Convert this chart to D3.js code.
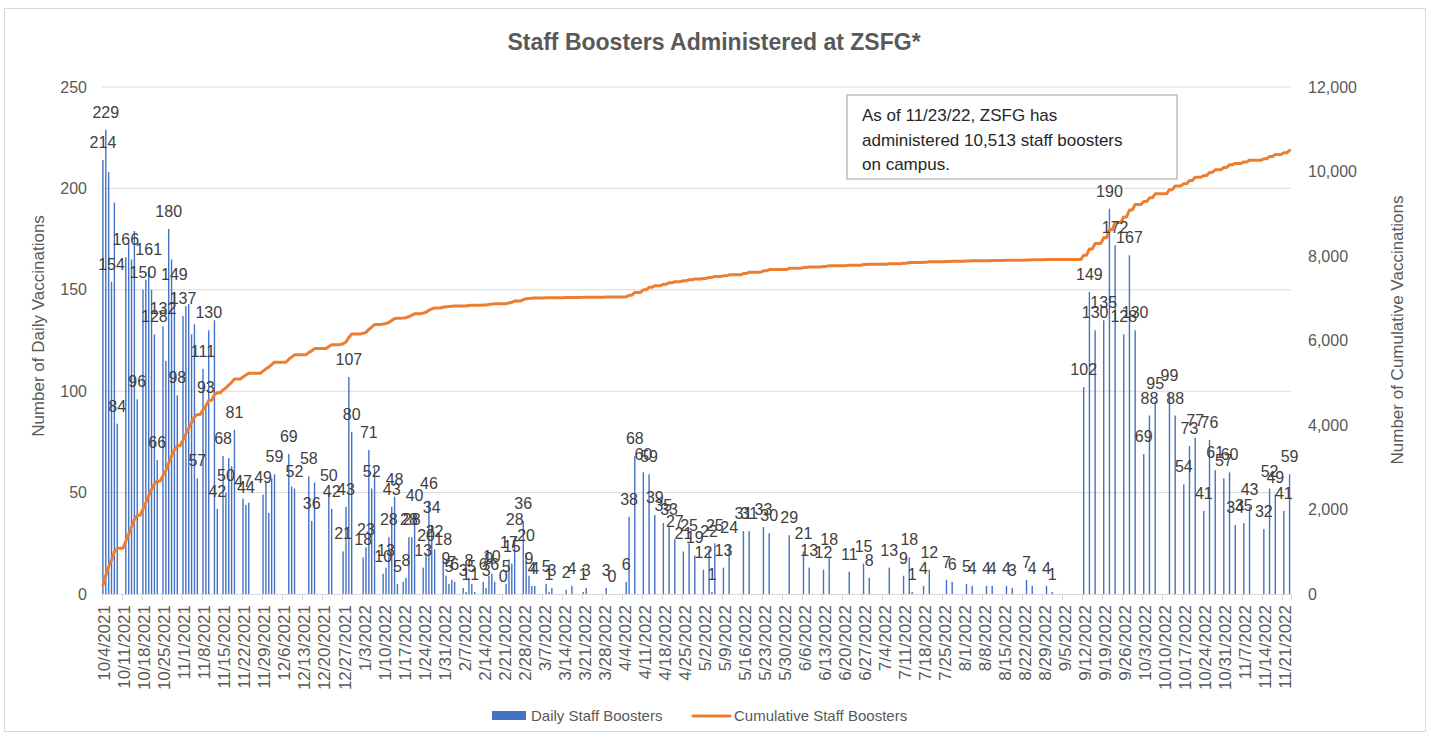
<!DOCTYPE html>
<html><head><meta charset="utf-8">
<script src="https://cdn.jsdelivr.net/npm/d3@7"></script>
<style>
body{margin:0;background:#fff;}
text{font-family:"Liberation Sans",Arial,sans-serif;}
</style></head><body>
<svg id="chart" width="1431" height="740"></svg>
<script>
// ---------- DATA ----------
const titleText = "Staff Boosters Administered at ZSFG*";
const seriesNames = ["Daily Staff Boosters", "Cumulative Staff Boosters"];
const leftAxisTitle = "Number of Daily Vaccinations";
const rightAxisTitle = "Number of Cumulative Vaccinations";
const noteLines = ["As of 11/23/22, ZSFG has", "administered 10,513 staff boosters", "on campus."];
const startDate = "2021-10-04";   // first Monday on the axis
const endDate = "2022-11-24";     // axis end (day after last record)
const leftTicks = [0, 50, 100, 150, 200, 250];
const rightTicks = [0, 2000, 4000, 6000, 8000, 10000, 12000];
// daily boosters, one row per week (Mon..Sun); null = no record that day
const dailyByWeek = [
  [214,229,208,154,193,84,null],   // 10/4/2021
  [null,166,173,165,179,96,null],  // 10/11
  [150,155,161,150,128,66,null],   // 10/18
  [132,115,180,165,149,98,null],   // 10/25
  [137,142,143,128,133,57,null],   // 11/1
  [111,93,130,null,135,42,null],   // 11/8
  [68,50,67,63,81,null,null],      // 11/15
  [47,44,45,null,null,null,null],  // 11/22
  [49,55,40,57,59,null,null],      // 11/29
  [null,null,69,53,52,null,null],  // 12/6
  [null,null,58,36,55,null,null],  // 12/13
  [null,null,50,42,null,null,null],// 12/20
  [21,43,107,80,null,null,null],   // 12/27
  [18,23,71,52,62,null,null],      // 1/3/2022
  [10,13,28,43,48,5,null],         // 1/10
  [6,8,28,28,40,null,null],        // 1/17
  [13,20,46,34,22,null,null],      // 1/24
  [18,9,5,7,6,null,null],          // 1/31
  [3,1,8,5,1,null,null],           // 2/7
  [6,3,9,10,6,null,null],          // 2/14
  [0,5,17,15,28,null,null],        // 2/21
  [36,20,9,4,4,null,null],         // 2/28
  [null,5,1,3,null,null,null],     // 3/7
  [null,2,null,4,null,null,null],  // 3/14
  [1,3,null,null,null,null,null],  // 3/21
  [null,3,null,0,null,null,null],  // 3/28
  [null,6,38,null,68,null,null],   // 4/4
  [60,null,59,null,39,null,null],  // 4/11
  [35,null,33,null,27,null,null],  // 4/18
  [21,null,25,null,19,null,null],  // 4/25
  [12,null,22,1,25,null,null],     // 5/2
  [13,null,24,null,null,null,null],// 5/9
  [31,null,31,null,null,null,null],// 5/16
  [33,null,30,null,null,null,null],// 5/23
  [null,null,29,null,null,null,null],// 5/30
  [21,null,13,null,null,null,null],// 6/6
  [12,null,18,null,null,null,null],// 6/13
  [null,null,11,null,null,null,null],// 6/20
  [15,null,8,null,null,null,null], // 6/27
  [null,null,13,null,null,null,null],// 7/4
  [9,null,18,1,null,null,null],    // 7/11
  [4,null,12,null,null,null,null], // 7/18
  [null,7,null,6,null,null,null],  // 7/25
  [null,5,null,4,null,null,null],  // 8/1
  [null,4,null,4,null,null,null],  // 8/8
  [null,4,null,3,null,null,null],  // 8/15
  [null,7,null,4,null,null,null],  // 8/22
  [null,4,null,1,null,null,null],  // 8/29
  [null,null,null,null,null,null,null], // 9/5
  [102,null,149,null,130,null,null],// 9/12
  [135,null,190,null,172,null,null],// 9/19
  [128,null,167,null,130,null,null],// 9/26
  [69,null,88,null,95,null,null],  // 10/3
  [null,null,99,null,88,null,null],// 10/10
  [54,null,73,null,77,null,null],  // 10/17
  [41,null,76,null,61,null,null],  // 10/24
  [57,null,60,null,34,null,null],  // 10/31
  [35,null,43,null,null,null,null],// 11/7
  [32,null,52,null,49,null,null],  // 11/14
  [41,null,59]                     // 11/21 (through 11/23)
];
// bars whose data label is not shown in the original
const unlabeledDays = ["2021-10-06","2021-10-08","2021-10-13","2021-10-14","2021-10-15",
  "2021-10-19","2021-10-21","2021-10-26","2021-10-28","2021-11-02","2021-11-03","2021-11-04",
  "2021-11-05","2021-11-12","2021-11-17","2021-11-18","2021-11-24","2021-11-30","2021-12-01",
  "2021-12-02","2021-12-09","2021-12-17","2022-01-07","2022-01-17"];

// ---------- BUILD ----------
(function(){
const parse = d3.utcParse("%Y-%m-%d");
const fmtISO = d3.utcFormat("%Y-%m-%d");
const t0 = parse(startDate), t1 = parse(endDate);
const days = [];
dailyByWeek.forEach((wk, wi) => wk.forEach((v, di) => {
  days.push({date: d3.utcDay.offset(t0, wi * 7 + di), value: v});
}));
const cums = d3.cumsum(days, d => d.value || 0);
days.forEach((d, i) => d.cum = cums[i]);

const W = 1431, H = 740;
const pL = 101.5, pR = 1291, pT = 87, pB = 594;
const svg = d3.select("#chart");
const x = d3.scaleUtc().domain([t0, t1]).range([pL, pR]);
const slot = x(d3.utcDay.offset(t0, 1)) - x(t0);
const yL = d3.scaleLinear().domain([0, 250]).range([pB, pT]);
const yR = d3.scaleLinear().domain([0, 12000]).range([pB, pT]);
const grey = "#595959", blue = "#4472C4", orange = "#ED7D31";

svg.append("rect").attr("x", 0).attr("y", 0).attr("width", W).attr("height", H).attr("fill", "#fff");
svg.append("rect").attr("x", 4.5).attr("y", 8.5).attr("width", 1421).attr("height", 723)
  .attr("fill", "none").attr("stroke", "#d9d9d9").attr("stroke-width", 1);

svg.append("text").attr("x", 714).attr("y", 50).attr("text-anchor", "middle")
  .attr("font-size", 23).attr("font-weight", "bold").attr("fill", grey).text(titleText);

svg.append("g").selectAll("line").data(leftTicks.filter(t => t > 0)).join("line")
  .attr("x1", pL).attr("x2", pR).attr("y1", d => yL(d)).attr("y2", d => yL(d))
  .attr("stroke", "#d9d9d9").attr("stroke-width", 1);

svg.append("g").selectAll("text").data(leftTicks).join("text")
  .attr("x", 87).attr("y", d => yL(d)).attr("dy", "0.35em").attr("text-anchor", "end")
  .attr("font-size", 16).attr("fill", grey).text(d => d);
svg.append("g").selectAll("text").data(rightTicks).join("text")
  .attr("x", 1308).attr("y", d => yR(d)).attr("dy", "0.35em").attr("text-anchor", "start")
  .attr("font-size", 16).attr("fill", grey).text(d => d3.format(",")(d));

svg.append("text").attr("transform", "translate(44,326) rotate(-90)").attr("text-anchor", "middle")
  .attr("font-size", 17).attr("fill", grey).text(leftAxisTitle);
svg.append("text").attr("transform", "translate(1403,330) rotate(-90)").attr("text-anchor", "middle")
  .attr("font-size", 17).attr("fill", grey).text(rightAxisTitle);

const weekTicks = d3.utcMonday.range(t0, t1);
svg.append("line").attr("x1", pL).attr("x2", pR).attr("y1", pB + 0.5).attr("y2", pB + 0.5)
  .attr("stroke", "#d9d9d9");
svg.append("g").selectAll("line").data(weekTicks.concat([t1])).join("line")
  .attr("x1", d => Math.round(x(d)) + 0.5).attr("x2", d => Math.round(x(d)) + 0.5)
  .attr("y1", pB).attr("y2", pB + 6).attr("stroke", "#d9d9d9");
const fmtTick = d3.utcFormat("%-m/%-d/%Y");
svg.append("g").selectAll("text").data(weekTicks).join("text")
  .attr("transform", d => `translate(${x(d) + slot},605) rotate(-90)`)
  .attr("text-anchor", "end").attr("dy", "0.35em")
  .attr("font-size", 17).attr("fill", grey).text(d => fmtTick(d));

const barDays = days.filter(d => d.value !== null);
const bw = 1.4;
svg.append("g").selectAll("rect").data(barDays.filter(d => d.value > 0)).join("rect")
  .attr("x", d => x(d.date) + slot / 2 - bw / 2).attr("width", bw)
  .attr("y", d => yL(d.value)).attr("height", d => yL(0) - yL(d.value))
  .attr("fill", blue);

const line = d3.line().x(d => x(d.date) + slot / 2).y(d => yR(d.cum));
svg.append("path").datum(days).attr("d", line).attr("fill", "none")
  .attr("stroke", orange).attr("stroke-width", 3).attr("stroke-linejoin", "round").attr("stroke-linecap", "round");

const hidden = new Set(unlabeledDays);
svg.append("g").selectAll("text").data(barDays.filter(d => !hidden.has(fmtISO(d.date)))).join("text")
  .attr("x", d => x(d.date) + slot / 2).attr("y", d => yL(d.value) - 12)
  .attr("text-anchor", "middle").attr("font-size", 16).attr("fill", "#404040")
  .text(d => d.value);

svg.append("rect").attr("x", 847).attr("y", 95).attr("width", 330).attr("height", 84)
  .attr("fill", "#fff").attr("stroke", "#bfbfbf").attr("stroke-width", 1.5);
svg.append("g").selectAll("text").data(noteLines).join("text")
  .attr("x", 862).attr("y", (d, i) => 121 + i * 24.5)
  .attr("font-size", 17).attr("fill", "#262626").text(d => d);

svg.append("rect").attr("x", 492).attr("y", 711).attr("width", 34).attr("height", 9).attr("fill", blue);
svg.append("text").attr("x", 531).attr("y", 721).attr("font-size", 15).attr("fill", grey).text(seriesNames[0]);
svg.append("line").attr("x1", 693).attr("x2", 730).attr("y1", 716).attr("y2", 716)
  .attr("stroke", orange).attr("stroke-width", 3).attr("stroke-linecap", "round");
svg.append("text").attr("x", 734).attr("y", 721).attr("font-size", 15).attr("fill", grey).text(seriesNames[1]);
})();
</script>
</body></html>
